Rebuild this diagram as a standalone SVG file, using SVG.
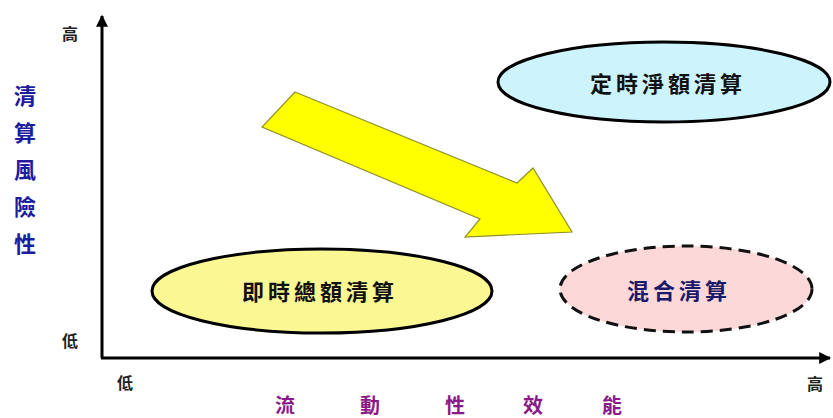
<svg xmlns="http://www.w3.org/2000/svg" width="833" height="418" viewBox="0 0 833 418">
<style>
text{font-family:"Noto Sans CJK TC","Noto Sans CJK SC",sans-serif;font-weight:bold;text-anchor:middle;dominant-baseline:central}
.tick{font-size:16px;fill:#222}
.ylab{font-size:22px;fill:#1c1c9c}
.xlab{font-size:20px;fill:#8a1a8a}
.node{font-size:22px;fill:#111;letter-spacing:4px}
.axis{stroke:#000;stroke-width:3;fill:none}
</style>
<defs>
<marker id="ah" viewBox="0 0 10 10" refX="9" refY="5" markerWidth="4" markerHeight="4" orient="auto" markerUnits="strokeWidth">
<path d="M0,0 L10,5 L0,10 z" fill="#000"/>
</marker>
</defs>
<rect width="833" height="418" fill="#fff"/>
<g id="axes">
<line class="axis" x1="102" y1="358" x2="102" y2="16" marker-end="url(#ah)"/>
<line class="axis" x1="101" y1="358" x2="830" y2="358" marker-end="url(#ah)"/>
</g>
<g id="axis-labels">
<text class="tick" x="70" y="33">高</text>
<text class="tick" x="70" y="340">低</text>
<text class="tick" x="125" y="382">低</text>
<text class="tick" x="815" y="383">高</text>
<text class="ylab" x="25" y="94">清</text>
<text class="ylab" x="25" y="131">算</text>
<text class="ylab" x="25" y="168">風</text>
<text class="ylab" x="25" y="205">險</text>
<text class="ylab" x="25" y="242">性</text>
<text class="xlab" x="285" y="404">流</text>
<text class="xlab" x="370" y="404">動</text>
<text class="xlab" x="455" y="404">性</text>
<text class="xlab" x="533" y="404">效</text>
<text class="xlab" x="612" y="404">能</text>
</g>
<g id="connectors">
<polygon points="295,92 517,183 533,168 572,232 465,237 480,219 262,127" fill="#ffff00" stroke="#8f8f2a" stroke-width="1.2" stroke-linejoin="miter"/>
</g>
<g id="node-fixed-net">
<ellipse cx="664" cy="82" rx="166" ry="40" fill="#cdf3fd" stroke="#000" stroke-width="3"/>
<text class="node" x="668" y="82">定時淨額清算</text>
</g>
<g id="node-realtime-gross">
<ellipse cx="322" cy="291" rx="170" ry="42" fill="#fbf894" stroke="#000" stroke-width="3"/>
<text class="node" x="320" y="290">即時總額清算</text>
</g>
<g id="node-hybrid">
<ellipse cx="686" cy="289" rx="126" ry="43" fill="#fdd8d8" stroke="#111" stroke-width="3" stroke-dasharray="12,7"/>
<text class="node" x="679" y="289" style="fill:#1a1a6a">混合清算</text>
</g>
</svg>
